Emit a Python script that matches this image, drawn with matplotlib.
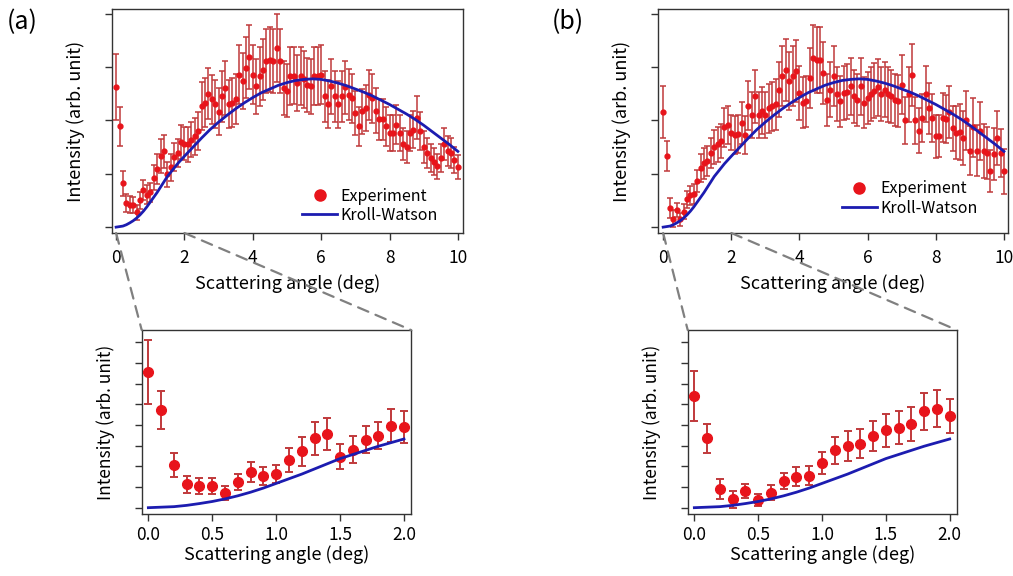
import matplotlib
matplotlib.use("Agg")
import matplotlib.pyplot as plt
import numpy as np
from matplotlib.lines import Line2D
from matplotlib.patches import ConnectionPatch

plt.rcParams['font.family'] = ['Noto Sans CJK JP', 'DejaVu Sans']

# Scattering angle grid of the measurement (deg), 0.0 ... 10.0
angles = np.round(np.arange(101) * 0.1, 1)

# Panel (a) experiment
intensity_a = [
    2.62, 1.89, 0.82, 0.45, 0.42, 0.42, 0.28, 0.50, 0.69, 0.61,
    0.65, 0.93, 1.09, 1.34, 1.42, 0.99, 1.12, 1.32, 1.39, 1.59,
    1.56, 1.55, 1.64, 1.70, 1.80, 2.27, 2.33, 2.50, 2.40, 2.30,
    2.16, 2.45, 2.61, 2.30, 2.33, 2.40, 2.86, 2.74, 2.99, 3.19,
    2.86, 2.64, 2.83, 2.95, 3.11, 3.14, 3.12, 3.36, 3.12, 2.61,
    2.56, 2.83, 2.84, 2.70, 2.83, 2.77, 2.67, 2.64, 2.83, 2.83,
    2.86, 2.45, 2.30, 2.64, 2.45, 2.30, 2.45, 2.62, 2.48, 2.42,
    2.14, 1.89, 2.17, 2.24, 2.48, 2.42, 2.18, 2.02, 2.02, 1.89,
    1.77, 1.77, 1.92, 1.77, 1.55, 1.51, 1.77, 1.83, 2.05, 1.80,
    1.51, 1.39, 1.30, 1.23, 1.14, 1.30, 1.55, 1.42, 1.39, 1.26,
    1.13,
]
error_a = [
    0.62, 0.37, 0.23, 0.17, 0.16, 0.15, 0.14, 0.16, 0.19, 0.18,
    0.18, 0.23, 0.28, 0.32, 0.31, 0.24, 0.26, 0.26, 0.26, 0.32,
    0.31, 0.32, 0.33, 0.34, 0.36, 0.45, 0.46, 0.48, 0.46, 0.45,
    0.44, 0.48, 0.50, 0.45, 0.46, 0.47, 0.55, 0.53, 0.57, 0.60,
    0.55, 0.52, 0.55, 0.57, 0.60, 0.61, 0.60, 0.64, 0.60, 0.51,
    0.50, 0.54, 0.54, 0.52, 0.54, 0.53, 0.51, 0.51, 0.54, 0.54,
    0.55, 0.47, 0.45, 0.51, 0.47, 0.44, 0.47, 0.50, 0.48, 0.46,
    0.41, 0.37, 0.42, 0.43, 0.47, 0.46, 0.42, 0.39, 0.39, 0.37,
    0.34, 0.34, 0.37, 0.34, 0.30, 0.30, 0.34, 0.35, 0.40, 0.35,
    0.30, 0.28, 0.26, 0.25, 0.23, 0.26, 0.30, 0.28, 0.28, 0.25,
    0.23,
]

# Panel (b) experiment
intensity_b = [
    2.16, 1.34, 0.36, 0.16, 0.32, 0.15, 0.29, 0.52, 0.60, 0.62,
    0.86, 1.11, 1.20, 1.24, 1.39, 1.50, 1.55, 1.62, 1.87, 1.92,
    1.77, 1.73, 1.75, 1.95, 1.73, 2.28, 2.11, 2.45, 2.11, 2.18,
    2.11, 2.23, 2.27, 2.30, 2.58, 2.83, 2.95, 2.74, 2.83, 2.92,
    2.52, 2.33, 2.36, 2.80, 3.17, 3.14, 3.14, 2.89, 2.39, 2.58,
    2.83, 2.50, 2.36, 2.52, 2.54, 2.64, 2.45, 2.39, 2.64, 2.33,
    2.42, 2.50, 2.56, 2.62, 2.50, 2.58, 2.49, 2.45, 2.39, 2.36,
    2.67, 2.00, 2.49, 2.85, 2.00, 1.81, 2.05, 2.50, 2.23, 2.05,
    1.70, 1.71, 2.05, 2.02, 2.16, 1.85, 1.77, 1.78, 1.67, 2.00,
    1.43, 1.87, 1.43, 1.80, 1.43, 1.39, 1.05, 1.37, 1.67, 1.39,
    1.05,
]
error_b = [
    0.49, 0.28, 0.19, 0.16, 0.13, 0.12, 0.14, 0.16, 0.18, 0.19,
    0.21, 0.26, 0.29, 0.28, 0.29, 0.32, 0.32, 0.32, 0.36, 0.36,
    0.33, 0.35, 0.36, 0.40, 0.36, 0.46, 0.43, 0.49, 0.43, 0.44,
    0.43, 0.46, 0.46, 0.47, 0.52, 0.56, 0.58, 0.55, 0.56, 0.58,
    0.51, 0.48, 0.48, 0.56, 0.62, 0.62, 0.62, 0.58, 0.49, 0.52,
    0.56, 0.51, 0.48, 0.51, 0.51, 0.53, 0.50, 0.49, 0.53, 0.48,
    0.49, 0.51, 0.52, 0.53, 0.51, 0.52, 0.51, 0.50, 0.49, 0.49,
    0.55, 0.44, 0.52, 0.58, 0.44, 0.42, 0.45, 0.52, 0.48, 0.45,
    0.40, 0.40, 0.46, 0.45, 0.48, 0.43, 0.50, 0.52, 0.50, 0.55,
    0.46, 0.55, 0.48, 0.55, 0.50, 0.48, 0.40, 0.48, 0.50, 0.45,
    0.42,
]

# Kroll-Watson prediction
kw_angle = [0.0, 0.1, 0.2, 0.3, 0.4, 0.5, 0.6, 0.7, 0.8, 0.9, 1.0,
            1.1, 1.2, 1.3, 1.4, 1.5, 1.6, 1.7, 1.8, 1.9, 2.0,
            2.25, 2.5, 2.75, 3.0, 3.25, 3.5, 3.75, 4.0, 4.25, 4.5, 4.75,
            5.0, 5.25, 5.5, 5.75, 6.0, 6.25, 6.5, 6.75, 7.0, 7.25, 7.5,
            7.75, 8.0, 8.25, 8.5, 8.75, 9.0, 9.25, 9.5, 9.75, 10.0]
kw_curve = [0.0, 0.01, 0.02, 0.045, 0.08, 0.12, 0.17, 0.23, 0.30, 0.38, 0.47,
            0.56, 0.65, 0.75, 0.85, 0.95, 1.03, 1.11, 1.19, 1.26, 1.33,
            1.50, 1.67, 1.83, 1.97, 2.10, 2.22, 2.33, 2.43, 2.52, 2.59, 2.66,
            2.71, 2.75, 2.77, 2.78, 2.77, 2.74, 2.70, 2.65, 2.59, 2.53, 2.46,
            2.38, 2.30, 2.21, 2.12, 2.02, 1.91, 1.79, 1.67, 1.55, 1.42]

top_ticks = [0, 2, 4, 6, 8, 10]
zoom_ticks = [0.0, 0.5, 1.0, 1.5, 2.0]
n_zoom = 21     # data points in the 0-2 deg zoom
n_zoom_kw = 21  # curve points in the 0-2 deg zoom

dot_color = '#e8141b'
bar_color = '#c0393b'
line_color = '#1c1cb0'
W, H = 1013, 576


def px_axes(fig, left, top, right, bottom):
    return fig.add_axes([left / W, 1 - bottom / H, (right - left) / W, (bottom - top) / H])


def style(ax, pad):
    for s in ax.spines.values():
        s.set_linewidth(1.0)
        s.set_color('#333333')
    ax.tick_params(direction='out', length=5, width=1, colors='#333333',
                   labelsize=12.5, labelcolor='black')
    ax.tick_params(axis='x', pad=pad)
    ax.set_yticklabels([])


fig = plt.figure(figsize=(W / 100, H / 100), dpi=100)

panels = [
    ('(a)', intensity_a, error_a, (112, 9, 463, 233), (141.7, 330, 411, 514.3),
     (-0.12, 10.15), (0.96, -0.01), 7),
    ('(b)', intensity_b, error_b, (657.7, 9, 1007.7, 233), (687.7, 330, 956.7, 514.3),
     (-0.16, 10.11), (0.946, 0.022), 552),
]

for tag, inten, err, box, inbox, xlim, leg_pos, tag_x in panels:
    ax = px_axes(fig, *box)
    ax.errorbar(angles, inten, yerr=err, fmt='none', ecolor=bar_color,
                elinewidth=1.1, capsize=2.5, capthick=1.1, zorder=2)
    ax.plot(angles, inten, 'o', color=dot_color, ms=3.5, zorder=3)
    ax.plot(kw_angle, kw_curve, color=line_color, lw=2, zorder=4)
    ax.set_xlim(*xlim)
    ax.set_ylim(-0.11, 4.09)
    ax.set_xticks(top_ticks)
    ax.set_yticks([0, 1, 2, 3, 4])
    style(ax, 6.5)
    ax.set_xlabel('Scattering angle (deg)', fontsize=13, labelpad=5)
    ax.set_ylabel('Intensity (arb. unit)', fontsize=13, labelpad=11)
    handles = [Line2D([], [], marker='o', ls='none', color=dot_color, ms=8),
               Line2D([], [], color=line_color, lw=2)]
    ax.legend(handles, ['Experiment', 'Kroll-Watson'], loc='lower right',
              bbox_to_anchor=leg_pos, frameon=False, fontsize=11.5,
              handlelength=2.2, handletextpad=0.2, labelspacing=0.15,
              borderpad=0.2)
    fig.text(tag_x / W, 1 - 22 / H, tag, fontsize=18, va='center', ha='left')

    ins = px_axes(fig, *inbox)
    ins.errorbar(angles[:n_zoom], inten[:n_zoom], yerr=err[:n_zoom], fmt='none',
                 ecolor=bar_color, elinewidth=1.4, capsize=3, capthick=1.4, zorder=2)
    ins.plot(angles[:n_zoom], inten[:n_zoom], 'o', color=dot_color, ms=7, zorder=3)
    ins.plot(kw_angle[:n_zoom_kw], kw_curve[:n_zoom_kw], color=line_color, lw=2, zorder=4)
    ins.set_xlim(-0.052, 2.055)
    ins.set_ylim(-0.128, 3.44)
    ins.set_xticks(zoom_ticks)
    ins.set_xticklabels(['0.0', '0.5', '1.0', '1.5', '2.0'])
    ins.set_yticks(np.round(np.arange(9) * 0.4, 1))
    style(ins, 3.5)
    ins.set_xlabel('Scattering angle (deg)', fontsize=13, labelpad=1)
    ins.set_ylabel('Intensity (arb. unit)', fontsize=12.5, labelpad=11)

    for xa, xb in [(0, 0), (2, 1)]:
        con = ConnectionPatch(xyA=(xa, -0.11), coordsA=ax.transData,
                              xyB=(xb, 1), coordsB=ins.transAxes,
                              color='#808080', ls=(0, (5, 3.5)), lw=1.6, zorder=5)
        fig.add_artist(con)

fig.savefig('out.png', dpi=100)
